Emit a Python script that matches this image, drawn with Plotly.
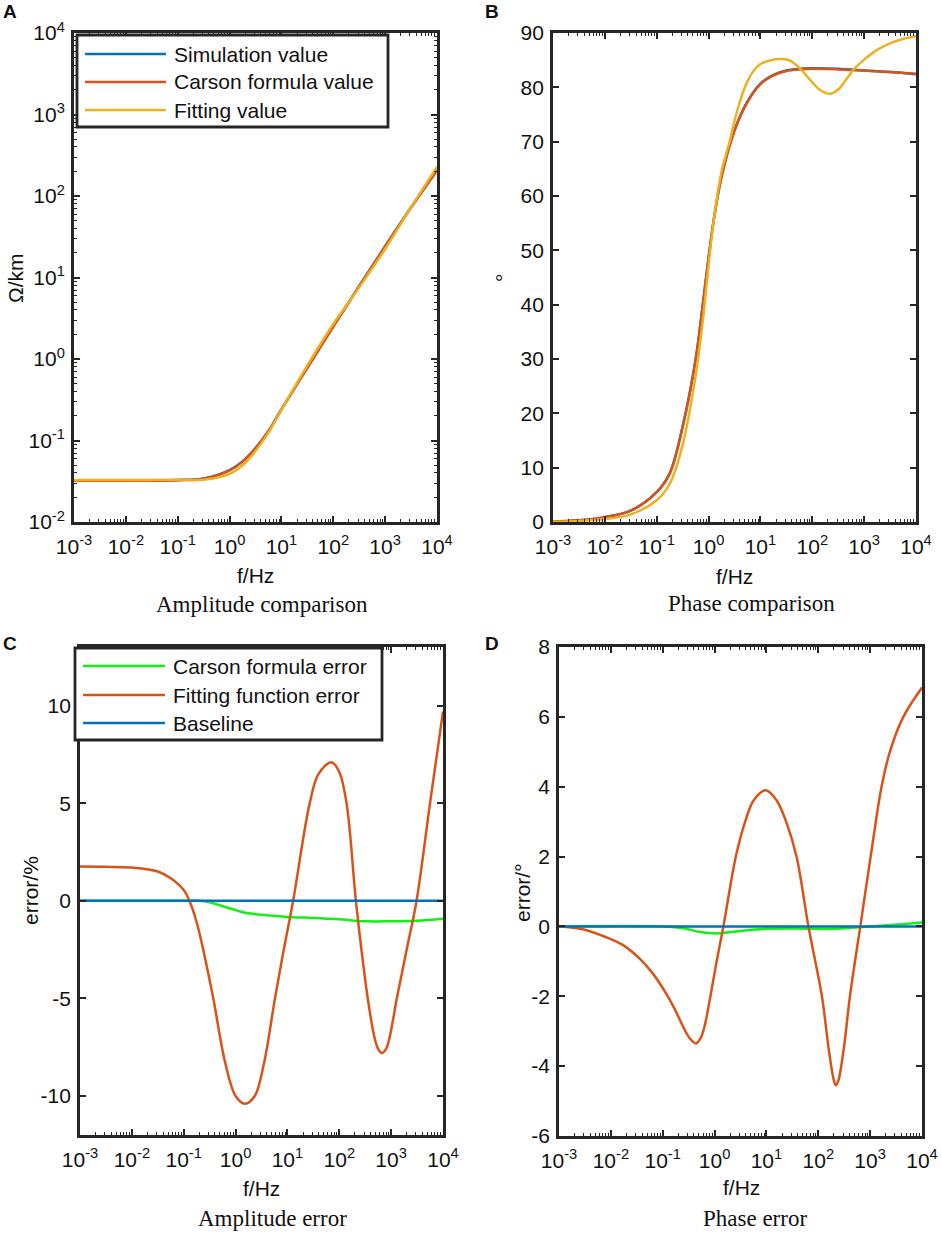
import numpy as np
import plotly.graph_objects as go
from plotly.subplots import make_subplots

# values; frequencies are given as log10(f/Hz)

# A - amplitude comparison (Ohm/km)
lg_f_amp = [-3, -2, -1, -0.5, 0, 0.25, 0.5, 0.75, 1, 1.5, 2, 2.5, 3, 3.5, 4]
amp_sim = [0.0322, 0.0322, 0.0327, 0.0343, 0.0434, 0.0555, 0.0808, 0.131, 0.242, 0.787, 2.52, 7.87, 24.2, 72.7, 207]
amp_carson = [0.032, 0.032, 0.0325, 0.034, 0.043, 0.055, 0.080, 0.130, 0.240, 0.780, 2.50, 7.80, 24.0, 72.0, 205]
amp_fit = [0.0328, 0.0327, 0.0329, 0.0330, 0.0390, 0.0498, 0.0743, 0.1247, 0.239, 0.835, 2.69, 7.56, 22.4, 72.7, 227]

# B - phase comparison (degree)
lg_f_ph = [-3, -2.5, -2, -1.5, -1, -0.75, -0.5, -0.25, -0.1, 0, 0.1, 0.25, 0.5, 0.75, 1,
           1.25, 1.5, 1.75, 2, 2.5, 3, 3.5, 4]
ph_sim = [0.1, 0.3, 0.9, 2.1, 5.5, 8.95, 17.6, 29.95, 41.0, 48.7, 55.7, 63.65, 72.1, 77.4, 80.7,
          82.3, 83.1, 83.4, 83.5, 83.4, 83.1, 82.8, 82.4]
ph_carson = [0.1, 0.3, 0.9, 2.1, 5.5, 8.9, 17.5, 29.8, 40.8, 48.5, 55.5, 63.5, 72.0, 77.3, 80.6,
             82.2, 83.0, 83.3, 83.4, 83.3, 83.1, 82.8, 82.5]
lg_f_ph_fit = [-3, -2.5, -2, -1.5, -1, -0.75, -0.5, -0.25, -0.1, 0, 0.1, 0.25, 0.4, 0.55, 0.7,
               0.85, 1, 1.2, 1.37, 1.55, 1.75, 2, 2.15, 2.34, 2.5, 2.65, 2.8, 3, 3.25, 3.5, 3.75, 4]
ph_fit = [0.05, 0.2, 0.55, 1.4, 4.0, 7.0, 14.2, 26.9, 38.0, 47.3, 55.5, 64.5, 69.8, 75.6, 80.0,
          82.8, 84.3, 85.0, 85.2, 85.0, 83.6, 80.9, 79.5, 78.8, 79.6, 81.4, 83.3, 85.1, 86.9, 88.1, 88.9, 89.4]

# C - amplitude error (%)
lg_f_ce_fit = [-3, -2.5, -2, -1.5, -1.25, -1, -0.89, -0.75, -0.6, -0.43, -0.2, 0, 0.18, 0.37,
               0.55, 0.76, 0.93, 1.11, 1.43, 1.6, 1.85, 2.0, 2.14, 2.32, 2.45, 2.56, 2.67,
               2.75, 2.82, 2.9, 2.97, 3.11, 3.3, 3.49, 3.75, 4]
amp_err_fit = [1.75, 1.74, 1.7, 1.5, 1.15, 0.55, 0, -1.1, -2.8, -5, -8.3, -10, -10.4, -10,
               -8.3, -5, -2.5, 0, 5, 6.5, 7.1, 6.6, 5, 0, -3.0, -5.2, -6.9,
               -7.6, -7.8, -7.6, -7.0, -5.0, -2.5, 0, 5, 9.7]
lg_f_ce_carson = [-3, -1, -0.7, -0.5, -0.25, 0, 0.21, 0.5, 1, 1.5, 2, 2.5, 3, 3.5, 4]
amp_err_carson = [0, 0, 0, -0.08, -0.28, -0.48, -0.63, -0.72, -0.83, -0.88, -0.95, -1.05, -1.05, -1.02, -0.92]

# D - phase error (degree)
lg_f_de_fit = [-3, -2.54, -2.09, -1.75, -1.44, -1.2, -0.93, -0.75, -0.6, -0.48, -0.36, -0.27, -0.2,
               -0.08, 0.04, 0.17, 0.41, 0.59, 0.75, 0.99, 1.2, 1.38, 1.58, 1.81, 2.07, 2.2,
               2.3, 2.34, 2.39, 2.5, 2.61, 2.81, 3.01, 3.22, 3.38, 3.64, 4]
ph_err_fit = [0, -0.08, -0.31, -0.55, -0.93, -1.33, -1.93, -2.42, -2.89, -3.2, -3.35, -3.2, -2.9,
              -2.0, -1.0, 0, 2, 3, 3.6, 3.9, 3.6, 3, 2, 0, -2, -3.5,
              -4.4, -4.55, -4.4, -3.4, -2, 0, 2, 4, 5, 6, 6.84]
lg_f_de_carson = [-3, -1, -0.6, -0.28, 0.04, 0.5, 1, 1.5, 2, 2.3, 2.8, 3.2, 3.6, 4]
ph_err_carson = [0, 0, -0.05, -0.16, -0.2, -0.13, -0.07, -0.06, -0.07, -0.07, -0.02, 0.02, 0.06, 0.11]

lg_f_base = [-3, 4]
baseline = [0, 0]

names_top = ["Simulation value", "Carson formula value", "Fitting value"]
names_bot = ["Carson formula error", "Fitting function error", "Baseline"]

BLUE, ORANGE, YELLOW, GREEN = "#0072BD", "#D95319", "#EDB120", "#14F014"
INK = "#262626"
W, H = 941, 1234
SANS = "Liberation Sans, Arial"
SERIF = "Liberation Serif, Times New Roman"


def hz(lg):
    return 10 ** np.array(lg, dtype=float)


def px(x):
    return x / W


def py(y):
    return 1 - y / H


fig = make_subplots(rows=2, cols=2)


def add_line(x, y, color, row, col, spline=True):
    fig.add_trace(go.Scatter(x=hz(x), y=y, mode="lines", showlegend=False,
                             line=dict(color=color, width=2.5,
                                       shape="spline" if spline else "linear")),
                  row=row, col=col)


add_line(lg_f_amp, amp_sim, BLUE, 1, 1)
add_line(lg_f_amp, amp_carson, ORANGE, 1, 1)
add_line(lg_f_amp, amp_fit, YELLOW, 1, 1)

add_line(lg_f_ph, ph_sim, BLUE, 1, 2)
add_line(lg_f_ph, ph_carson, ORANGE, 1, 2)
add_line(lg_f_ph_fit, ph_fit, YELLOW, 1, 2)

add_line(lg_f_ce_carson, amp_err_carson, GREEN, 2, 1)
add_line(lg_f_ce_fit, amp_err_fit, ORANGE, 2, 1)
add_line(lg_f_base, baseline, BLUE, 2, 1, spline=False)

add_line(lg_f_de_carson, ph_err_carson, GREEN, 2, 2)
add_line(lg_f_de_fit, ph_err_fit, ORANGE, 2, 2)
add_line(lg_f_base, baseline, BLUE, 2, 2, spline=False)

# axes, MATLAB look: boxed, ticks inside
frame = dict(showline=True, linewidth=2.8, linecolor=INK, mirror="allticks",
             ticks="inside", ticklen=6, tickwidth=1.5, tickcolor=INK,
             showgrid=False, zeroline=False, automargin=False,
             tickfont=dict(family=SANS, size=21, color="#111111"))

decades_x = list(range(-3, 5))
log_x = dict(type="log", range=[-3, 4], tickmode="array",
             tickvals=[10.0 ** d for d in decades_x],
             ticktext=["10<sup>%d</sup>" % d for d in decades_x],
             minor=dict(ticks="inside", ticklen=3, tickwidth=1, tickcolor=INK, dtick="D1"),
             ticklabelstandoff=4)

domains = {
    1: ([74, 437], [522, 33]),
    2: ([553, 916], [522, 33]),
    3: ([80, 443], [1135, 647]),
    4: ([559, 922], [1136, 647]),
}
for i, (dx, dy) in domains.items():
    sfx = "" if i == 1 else str(i)
    fig.layout["xaxis" + sfx].update(domain=[px(dx[0]), px(dx[1])], **frame, **log_x)
    fig.layout["yaxis" + sfx].update(domain=[py(dy[0]), py(dy[1])], **frame, ticklabelstandoff=2)

decades_y = list(range(-2, 5))
fig.update_yaxes(type="log", range=[-2, 4], tickmode="array",
                 tickvals=[10.0 ** d for d in decades_y],
                 ticktext=["10<sup>%d</sup>" % d for d in decades_y],
                 minor=dict(ticks="inside", ticklen=3, tickwidth=1, tickcolor=INK, dtick="D1"),
                 row=1, col=1)
fig.update_yaxes(range=[0, 90], dtick=10, row=1, col=2)
# hyphen minus signs as in the original
c_ticks = [-10, -5, 0, 5, 10]
d_ticks = [-6, -4, -2, 0, 2, 4, 6, 8]
fig.update_yaxes(range=[-12, 13], tickmode="array", tickvals=c_ticks,
                 ticktext=[str(v) for v in c_ticks], row=2, col=1)
fig.update_yaxes(range=[-6, 8], tickmode="array", tickvals=d_ticks,
                 ticktext=[str(v) for v in d_ticks], row=2, col=2)

annotations = []


def text(x, y, s, size=21, family=SANS, angle=0, anchor="center", bold=False):
    annotations.append(dict(x=px(x), y=py(y), xref="paper", yref="paper", text=s,
                            showarrow=False, xanchor=anchor, yanchor="middle",
                            textangle=angle,
                            font=dict(family=family, size=size, color="#111111",
                                      weight="bold" if bold else "normal")))


# panel letters
for x, y, s in [(10, 12, "A"), (492, 12, "B"), (10, 643, "C"), (492, 643, "D")]:
    text(x, y, s, size=19, bold=True)

# axis titles
for x, y in [(256, 575), (734, 576), (261, 1188), (741, 1187)]:
    text(x, y, "f/Hz")
text(15, 278, "Ω/km", angle=-90)
text(503, 278, "°", angle=-90)
text(30, 891, "error/%", angle=-90)
text(522, 893, "error/°", angle=-90)

# panel captions
for x, y, s in [(262, 604, "Amplitude comparison"), (751, 603, "Phase comparison"),
                (272, 1218, "Amplitude error"), (755, 1218, "Phase error")]:
    text(x, y, s, size=23, family=SERIF)

shapes = []


def legend_box(box, line_x, text_x, rows, names, colors):
    x0, y0, x1, y1 = box
    shapes.append(dict(type="rect", xref="paper", yref="paper", layer="above",
                       x0=px(x0), x1=px(x1), y0=py(y0), y1=py(y1),
                       line=dict(color=INK, width=2.8), fillcolor="white"))
    for yy, name, col in zip(rows, names, colors):
        shapes.append(dict(type="line", xref="paper", yref="paper", layer="above",
                           x0=px(line_x[0]), x1=px(line_x[1]), y0=py(yy), y1=py(yy),
                           line=dict(color=col, width=2.5)))
        text(text_x, yy, name, anchor="left")


legend_box((77, 35, 388, 127), (85, 166), 172, (54, 82, 110), names_top, [BLUE, ORANGE, YELLOW])
legend_box((75, 648, 382, 740), (83, 165), 171, (666, 695, 723), names_bot, [GREEN, ORANGE, BLUE])

fig.update_layout(template="none", width=W, height=H, margin=dict(l=0, r=0, t=0, b=0),
                  paper_bgcolor="white", plot_bgcolor="white",
                  showlegend=False, annotations=annotations, shapes=shapes)

# drop the page's default body margin so the figure sits at the window corner
fig.write_html("out.html", config={"displayModeBar": False},
               post_script="document.body.style.margin = '0';")
